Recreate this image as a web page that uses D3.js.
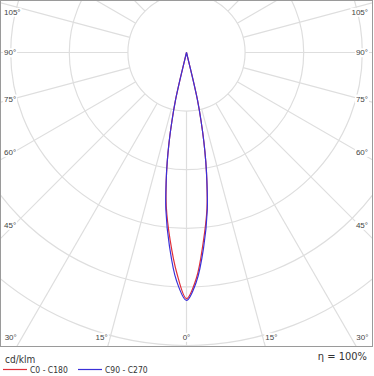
<!DOCTYPE html>
<html>
<head>
<meta charset="utf-8">
<script src="https://cdn.jsdelivr.net/npm/d3@7.9.0/dist/d3.min.js"></script>
<style>
  body { margin: 0; background: #fff; }
  svg { display: block; font-family: 'DejaVu Sans Condensed', 'DejaVu Sans', sans-serif; }
</style>
</head>
<body>
<svg id="chart" width="374" height="376"></svg>
<script>
// gamma angles (deg from nadir) and luminous intensity in cd/klm per half plane
const gammaDeg = [0, 2.5, 5, 7.5, 9, 10, 11, 12, 13, 13.5, 14];
const c0   = [8400, 7710, 6520, 5360, 4440, 3790, 3110, 2390, 1670, 890, 0];
const c180 = [8400, 7540, 6420, 5290, 4420, 3780, 3110, 2390, 1670, 890, 0];
const c90  = [8460, 7820, 6690, 5430, 4450, 3800, 3110, 2390, 1670, 890, 0];
const c270 = [8460, 7800, 6650, 5400, 4430, 3790, 3110, 2390, 1670, 890, 0];

const ringValues = [2000, 4000, 6000, 8000, 10000, 12000];
const spokeDeg = [0, 15, 30, 45, 60, 75, 90, 105, 120, 135, 150, 165, 180];
const sideTicks = [45, 60, 75, 90, 105];
const bottomTicks = [0, 15, 30];

const series = [
  { name: 'C0 - C180', left: c180, right: c0, color: '#e0303a' },
  { name: 'C90 - C270', left: c270, right: c90, color: '#3a30d8' }
];

const svg = d3.select('#chart');
const frame = { x0: 0.5, y0: 0.5, x1: 372.5, y1: 346.5 };
const cx = 186.5, cy = 52.5;
const rad = d => d * Math.PI / 180;

const r = d3.scaleLinear().domain([0, 2000]).range([0, 58.6]);

svg.append('defs').append('clipPath').attr('id', 'clip')
  .append('rect')
  .attr('x', frame.x0).attr('y', frame.y0)
  .attr('width', frame.x1 - frame.x0).attr('height', frame.y1 - frame.y0);

const plot = svg.append('g').attr('clip-path', 'url(#clip)');
const g = plot.append('g').attr('transform', `translate(${cx},${cy})`);

// rings
g.selectAll('circle.ring')
  .data(ringValues)
  .join('circle')
  .attr('class', 'ring')
  .attr('r', d => r(d))
  .attr('fill', 'none')
  .attr('stroke', '#dedede')
  .attr('stroke-width', 1.2);

// spokes, both sides
const spokes = spokeDeg.flatMap(d => d === 0 || d === 180 ? [d] : [d, -d]);
g.selectAll('line.spoke')
  .data(spokes)
  .join('line')
  .attr('class', 'spoke')
  .attr('x1', d => r(ringValues[0]) * Math.sin(rad(d)))
  .attr('y1', d => r(ringValues[0]) * Math.cos(rad(d)))
  .attr('x2', d => 700 * Math.sin(rad(d)))
  .attr('y2', d => 700 * Math.cos(rad(d)))
  .attr('stroke', '#dedede')
  .attr('stroke-width', 1.2);

// curves
const line = d3.lineRadial()
  .angle(d => d.a)
  .radius(d => r(d.v))
  .curve(d3.curveCatmullRom);

series.forEach(s => {
  const pts = [];
  for (let i = gammaDeg.length - 1; i >= 1; i--) pts.push({ a: Math.PI + rad(gammaDeg[i]), v: s.left[i] });
  pts.push({ a: Math.PI, v: (s.left[0] + s.right[0]) / 2 });
  for (let i = 1; i < gammaDeg.length; i++) pts.push({ a: Math.PI - rad(gammaDeg[i]), v: s.right[i] });
  g.append('path')
    .attr('d', line(pts))
    .attr('fill', 'none')
    .attr('stroke', s.color)
    .attr('stroke-width', 1.2);
});

// frame
svg.append('rect')
  .attr('x', frame.x0).attr('y', frame.y0)
  .attr('width', frame.x1 - frame.x0).attr('height', frame.y1 - frame.y0)
  .attr('fill', 'none')
  .attr('stroke', '#9a9a9a');

// angle labels
const labels = svg.append('g')
  .attr('font-family', "'Liberation Sans Narrow', 'Liberation Sans', sans-serif")
  .attr('font-size', 8)
  .attr('fill', '#444');

function addLabel(x, y, anchor, text) {
  const lg = labels.append('g');
  const t = lg.append('text')
    .attr('x', x).attr('y', y)
    .attr('dy', '0.35em')
    .attr('text-anchor', anchor)
    .text(text);
  const b = t.node().getBBox();
  lg.insert('rect', 'text')
    .attr('x', b.x - 1).attr('y', b.y)
    .attr('width', b.width + 2).attr('height', b.height)
    .attr('fill', '#fff');
}

const insetDx = 172.5;
sideTicks.forEach(d => {
  let y = cy + insetDx * Math.cos(rad(d)) / Math.sin(rad(d));
  y = Math.max(12, y);
  addLabel(4, y, 'start', d + '°');
  addLabel(368, y, 'end', d + '°');
});

bottomTicks.forEach(d => {
  const dx = (frame.y1 - cy) * Math.tan(rad(d));
  if (d === 0) {
    addLabel(cx, 337, 'middle', '0°');
  } else {
    addLabel(cx - dx, 337, 'end', d + '°');
    addLabel(cx + dx, 337, 'start', d + '°');
  }
});

// unit, legend, efficiency
svg.append('text')
  .attr('x', 5).attr('y', 363)
  .attr('font-size', 10)
  .attr('fill', '#333')
  .text('cd/klm');

const legendX = [3, 78];
series.forEach((s, i) => {
  svg.append('line')
    .attr('x1', legendX[i]).attr('x2', legendX[i] + 24)
    .attr('y1', 369.5).attr('y2', 369.5)
    .attr('stroke', s.color)
    .attr('stroke-width', 1.2);
  svg.append('text')
    .attr('x', legendX[i] + 27).attr('y', 372.5)
    .attr('font-size', 8.5)
    .attr('fill', '#333')
    .text(s.name);
});

svg.append('text')
  .attr('x', 367).attr('y', 360)
  .attr('text-anchor', 'end')
  .attr('font-size', 11)
  .attr('fill', '#333')
  .text('η = 100%');
</script>
</body>
</html>
